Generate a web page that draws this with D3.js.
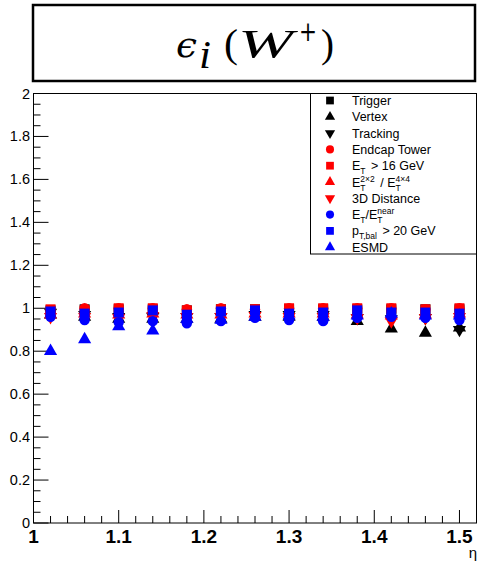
<!DOCTYPE html>
<html>
<head>
<meta charset="utf-8">
<script src="https://cdn.jsdelivr.net/npm/d3@7"></script>
<style>
	body { margin: 0; background: #fff; }
	svg { display: block; }
</style>
</head>
<body>
<script>
// eta bin centres
const eta = [1.02, 1.06, 1.10, 1.14, 1.18, 1.22, 1.26, 1.30, 1.34, 1.38, 1.42, 1.46, 1.50]

// efficiencies
const trigger = [0.99, 0.995, 0.995, 0.995, 0.99, 0.995, 0.995, 0.995, 0.995, 0.995, 0.995, 0.995, 0.995]
const vertex = [0.97, 0.96, 0.95, 0.95, 0.95, 0.95, 0.96, 0.96, 0.96, 0.94, 0.905, 0.885, 0.91]
const tracking = [0.98, 0.97, 0.96, 0.96, 0.96, 0.96, 0.97, 0.97, 0.97, 0.955, 0.95, 0.955, 0.9]
const endcapTower = [0.98, 1.0, 1.0, 1.0, 0.995, 1.0, 0.995, 1.0, 1.0, 1.0, 1.0, 0.995, 1.0]
const etCut = [0.995, 0.99, 1.0, 1.0, 0.99, 0.995, 0.995, 1.0, 1.0, 1.0, 1.0, 0.995, 1.0]
const etRatio = [0.97, 0.975, 0.97, 0.975, 0.97, 0.97, 0.975, 0.975, 0.975, 0.97, 0.965, 0.97, 0.975]
const dist3d = [0.96, 0.96, 0.955, 0.965, 0.96, 0.96, 0.965, 0.96, 0.96, 0.955, 0.94, 0.955, 0.96]
const etNear = [0.96, 0.945, 0.935, 0.94, 0.93, 0.94, 0.955, 0.945, 0.94, 0.955, 0.96, 0.955, 0.945]
const ptBal = [0.985, 0.975, 0.98, 0.99, 0.97, 0.985, 0.99, 0.975, 0.98, 0.99, 0.98, 0.98, 0.975]
const esmd = [0.80, 0.855, 0.915, 0.895, 0.95, 0.945, 0.96, 0.965, 0.96, 0.965, 0.975, 0.965, 0.965]

const seriesValues = [trigger, vertex, tracking, endcapTower, etCut, etRatio, dist3d, etNear, ptBal, esmd]
const seriesColors = ['#000', '#000', '#000', '#f00', '#f00', '#f00', '#f00', '#00f', '#00f', '#00f']
const seriesShapes = ['square', 'up', 'down', 'circle', 'square', 'up', 'down', 'circle', 'square', 'up']
// legend labels: [text, mode] with mode 0 normal, 1 sub, 2 sup, 3 sup stacked on previous sub
const seriesLabels = [
	[['Trigger', 0]],
	[['Vertex', 0]],
	[['Tracking', 0]],
	[['Endcap Tower', 0]],
	[['E', 0], ['T', 1], [' > 16 GeV', 0]],
	[['E', 0], ['T', 1], ['2×2', 3], [' / E', 0], ['T', 1], ['4×4', 3]],
	[['3D Distance', 0]],
	[['E', 0], ['T', 1], ['/E', 0], ['T', 1], ['near', 3]],
	[['p', 0], ['T,bal', 1], [' > 20 GeV', 0]],
	[['ESMD', 0]]
]

const xTicks = [1, 1.1, 1.2, 1.3, 1.4, 1.5]
const yTicks = [0, 0.2, 0.4, 0.6, 0.8, 1, 1.2, 1.4, 1.6, 1.8, 2]

const W = 481, H = 563
const frame = { left: 33.5, right: 476.5, top: 93.5, bottom: 523 }

const svg = d3.select('body').append('svg').attr('width', W).attr('height', H)

const x = d3.scaleLinear().domain([1, 1.52]).range([frame.left, frame.right])
const y = d3.scaleLinear().domain([0, 2]).range([frame.bottom, frame.top])

const shapeOf = (s, size) => {
	if (s === 'square') return d3.symbol(d3.symbolSquare, size)()
	if (s === 'circle') return d3.symbol(d3.symbolCircle, size * 0.85)()
	return d3.symbol(d3.symbolTriangle, size * 0.75)()
}
const rot = s => (s === 'down' ? ' rotate(180)' : '')

// title box
svg.append('rect')
	.attr('x', 33).attr('y', 5).attr('width', 442).attr('height', 76)
	.attr('fill', 'none').attr('stroke', '#000').attr('stroke-width', 2.5)

// title glyphs, each stretched a little to the width it has in the picture
const serif = '"Liberation Serif", serif'
const dejavu = '"DejaVu Serif", serif'
const titleParts = [
	{ t: 'ϵ', x: 176, w: 21, y: 56.5, size: 36, it: true, f: dejavu },
	{ t: 'i', x: 199, w: 12, y: 67.5, size: 40, it: true, f: serif },
	{ t: '(', x: 224, w: 14, y: 56.5, size: 40, it: false, f: serif },
	{ t: 'W', x: 238, w: 55, y: 56.5, size: 40, it: true, f: serif },
	{ t: '+', x: 299, w: 18, y: 41, size: 28, it: false, f: dejavu },
	{ t: ')', x: 321, w: 13, y: 56.5, size: 40, it: false, f: serif }
]
titleParts.forEach(p => {
	svg.append('text')
		.attr('x', p.x).attr('y', p.y)
		.attr('font-family', p.f)
		.attr('font-size', p.size)
		.attr('font-style', p.it ? 'italic' : 'normal')
		.attr('textLength', p.w)
		.attr('lengthAdjust', 'spacingAndGlyphs')
		.text(p.t)
})

// frame
svg.append('rect')
	.attr('x', frame.left).attr('y', frame.top)
	.attr('width', frame.right - frame.left).attr('height', frame.bottom - frame.top)
	.attr('fill', 'none').attr('stroke', '#000').attr('stroke-width', 1)

// x axis ticks (inside)
const gx = svg.append('g').attr('stroke', '#000').attr('stroke-width', 1)
d3.range(0, 26).map(i => 1 + i * 0.02).forEach(v => {
	const major = Math.abs(v * 10 - Math.round(v * 10)) < 1e-6
	gx.append('line')
		.attr('x1', x(v)).attr('x2', x(v))
		.attr('y1', frame.bottom).attr('y2', frame.bottom - (major ? 13 : 7))
})
svg.append('g').selectAll('text').data(xTicks).join('text')
	.attr('x', d => x(d)).attr('y', 543)
	.attr('text-anchor', 'middle')
	.attr('font-family', '"Liberation Sans", Arial, sans-serif')
	.attr('font-weight', 'bold')
	.attr('font-size', 19)
	.text(d => d3.format('')(d))

// y axis ticks (inside)
const gy = svg.append('g').attr('stroke', '#000').attr('stroke-width', 1)
d3.range(0, 41).map(i => i * 0.05).forEach((v, i) => {
	const major = i % 4 === 0
	gy.append('line')
		.attr('x1', frame.left).attr('x2', frame.left + (major ? 15 : 7))
		.attr('y1', y(v)).attr('y2', y(v))
})
svg.append('g').selectAll('text').data(yTicks).join('text')
	.attr('x', 30).attr('y', d => y(d) + 5)
	.attr('text-anchor', 'end')
	.attr('font-family', '"Liberation Sans", Arial, sans-serif')
	.attr('font-size', 14.5)
	.text(d => d3.format('')(d))

svg.append('text')
	.attr('x', 477).attr('y', 558)
	.attr('text-anchor', 'end')
	.attr('font-family', '"Liberation Sans", Arial, sans-serif')
	.attr('font-size', 15)
	.text('η')

// data points
seriesValues.forEach((vals, k) => {
	svg.append('g').selectAll('path').data(vals).join('path')
		.attr('d', shapeOf(seriesShapes[k], 100))
		.attr('transform', (d, i) => `translate(${x(eta[i])},${y(d)})${rot(seriesShapes[k])}`)
		.attr('fill', seriesColors[k])
})

// legend
const lg = svg.append('g')
lg.append('rect')
	.attr('x', 310.5).attr('y', frame.top).attr('width', frame.right - 310.5).attr('height', 160.5)
	.attr('fill', '#fff').attr('stroke', '#000').attr('stroke-width', 1)

seriesLabels.forEach((parts, k) => {
	const cy = 100.5 + k * 16.3
	lg.append('path')
		.attr('d', shapeOf(seriesShapes[k], 60))
		.attr('transform', `translate(330,${cy})${rot(seriesShapes[k])}`)
		.attr('fill', seriesColors[k])
	let cx = 352
	let subStart = cx
	let subWidth = 0
	parts.forEach(([t, mode]) => {
		const small = mode !== 0
		let px = cx
		if (mode === 3) px = subStart
		if (mode === 0 && t.startsWith(' ')) px += 2
		const dy = mode === 1 ? 4 : mode >= 2 ? -5 : 0
		const el = lg.append('text')
			.attr('x', px).attr('y', cy + 4.5 + dy)
			.attr('font-family', '"Liberation Sans", Arial, sans-serif')
			.attr('font-size', small ? 8.5 : 12.5)
			.attr('xml:space', 'preserve')
			.text(t)
		const w = el.node().getComputedTextLength()
		if (mode === 1) {
			subStart = px
			subWidth = w
			cx = px + w
		} else if (mode === 3) {
			cx = subStart + Math.max(subWidth, w)
		} else {
			cx = px + w
		}
	})
})
</script>
</body>
</html>
